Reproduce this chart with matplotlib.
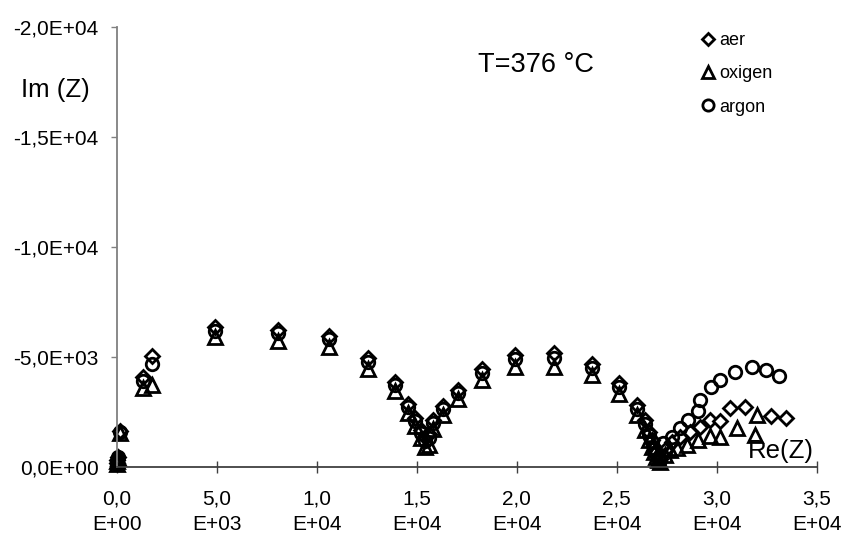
import matplotlib
matplotlib.use('Agg')
import matplotlib.pyplot as plt

plt.rcParams['font.family'] = ['Liberation Sans', 'DejaVu Sans']

# Re(Z) wartosci wspolne dla pierwszej czesci krzywych
re_common = [0, 30, 60, 150, 1315, 1740, 4915, 8065, 10615, 12565, 13915, 14565,
             14915, 15215, 15415, 15615, 15815, 16315, 17065, 18265, 19915, 21865,
             23765, 25115, 26015, 26415, 26615, 26765, 26865, 26965, 27065, 27165]

# aer
re_aer = re_common + [27415, 27765, 28165, 28665, 29165, 29665, 30165, 30665, 31415,
                      32715, 33465]
im_aer = [-150, -300, -450, -1620, -4080, -5030, -6350, -6210, -5940, -4940, -3850,
          -2850, -2210, -1670, -1350, -1500, -2120, -2750, -3490, -4440, -5080, -5170,
          -4670, -3800, -2800, -2120, -1580, -1200, -900, -650, -450, -350,
          -760, -1120, -1350, -1580, -1800, -2120, -2080, -2670, -2710, -2300, -2210]

# oxigen
re_oxigen = re_common + [27415, 27665, 28015, 28515, 29065, 29665, 30165, 31015,
                         32015, 31915]
im_oxigen = [-100, -250, -400, -1530, -3580, -3710, -5900, -5710, -5440, -4440, -3440,
             -2440, -1850, -1300, -900, -1000, -1710, -2350, -3080, -3940, -4530, -4530,
             -4170, -3300, -2350, -1670, -1210, -900, -650, -450, -300, -200,
             -530, -760, -850, -990, -1210, -1400, -1350, -1760, -2350, -1440]

# argon
re_argon = re_common + [27315, 27765, 28165, 28565, 29065, 29165, 29715, 30165, 30915,
                        31765, 32465, 33115]
im_argon = [-120, -280, -420, -1575, -3900, -4670, -6170, -6080, -5800, -4760, -3710,
            -2710, -2080, -1530, -1150, -1300, -1990, -2620, -3350, -4260, -4900, -4940,
            -4490, -3620, -2620, -1940, -1440, -1100, -800, -600, -400, -300,
            -1076, -1350, -1760, -2120, -2530, -3030, -3620, -3940, -4300, -4530, -4400,
            -4120]

x_ticks = [0, 5000, 10000, 15000, 20000, 25000, 30000, 35000]
x_tick_labels = ['0,0\nE+00', '5,0\nE+03', '1,0\nE+04', '1,5\nE+04', '2,0\nE+04',
                 '2,5\nE+04', '3,0\nE+04', '3,5\nE+04']
y_ticks = [0, -5000, -10000, -15000, -20000]
y_tick_labels = ['0,0E+00', '-5,0E+03', '-1,0E+04', '-1,5E+04', '-2,0E+04']

fig = plt.figure(figsize=(8.46, 5.33), dpi=100)
ax = fig.add_axes([0.138, 0.1244, 0.8274, 0.8255])

ax.plot(re_aer, im_aer, 'D', markersize=7.2, markerfacecolor='white',
        markeredgecolor='black', markeredgewidth=2, clip_on=False, label='aer')
ax.plot(re_oxigen, im_oxigen, '^', markersize=10, markerfacecolor='none',
        markeredgecolor='black', markeredgewidth=2, clip_on=False, label='oxigen')
ax.plot(re_argon, im_argon, 'o', markersize=9, markerfacecolor='none',
        markeredgecolor='black', markeredgewidth=2, clip_on=False, label='argon')

ax.set_xlim(0, 35000)
ax.set_ylim(0, -20000)

ax.spines['top'].set_visible(False)
ax.spines['right'].set_visible(False)
ax.spines['left'].set_color('#808080')
ax.spines['bottom'].set_color('#404040')
ax.spines['left'].set_linewidth(1.3)
ax.spines['bottom'].set_linewidth(1.3)

ax.set_xticks(x_ticks)
ax.set_xticklabels(x_tick_labels, fontsize=15, linespacing=1.4)
ax.set_yticks(y_ticks)
ax.set_yticklabels(y_tick_labels, fontsize=15)
ax.tick_params(axis='x', direction='inout', length=9, width=1, color='#404040', pad=12)
ax.tick_params(axis='y', direction='out', length=4, width=1, color='#808080', pad=9)

fig.text(55 / 846, 1 - 90 / 533, 'Im (Z)', fontsize=18.5, ha='center', va='center')
fig.text(781 / 846, 1 - 451 / 533, 'Re(Z)', fontsize=18.5, ha='center', va='center')
fig.text(536 / 846, 1 - 65 / 533, 'T=376 °C', fontsize=19.5, ha='center', va='center')

ax.legend(loc='upper left', bbox_to_anchor=(694 / 846, 1 - 23 / 533),
          bbox_transform=fig.transFigure, frameon=False, fontsize=13,
          handlelength=0.6, handletextpad=0.3, labelspacing=0.9, borderpad=0,
          markerscale=0.9)

plt.savefig('out.png', dpi=100)
